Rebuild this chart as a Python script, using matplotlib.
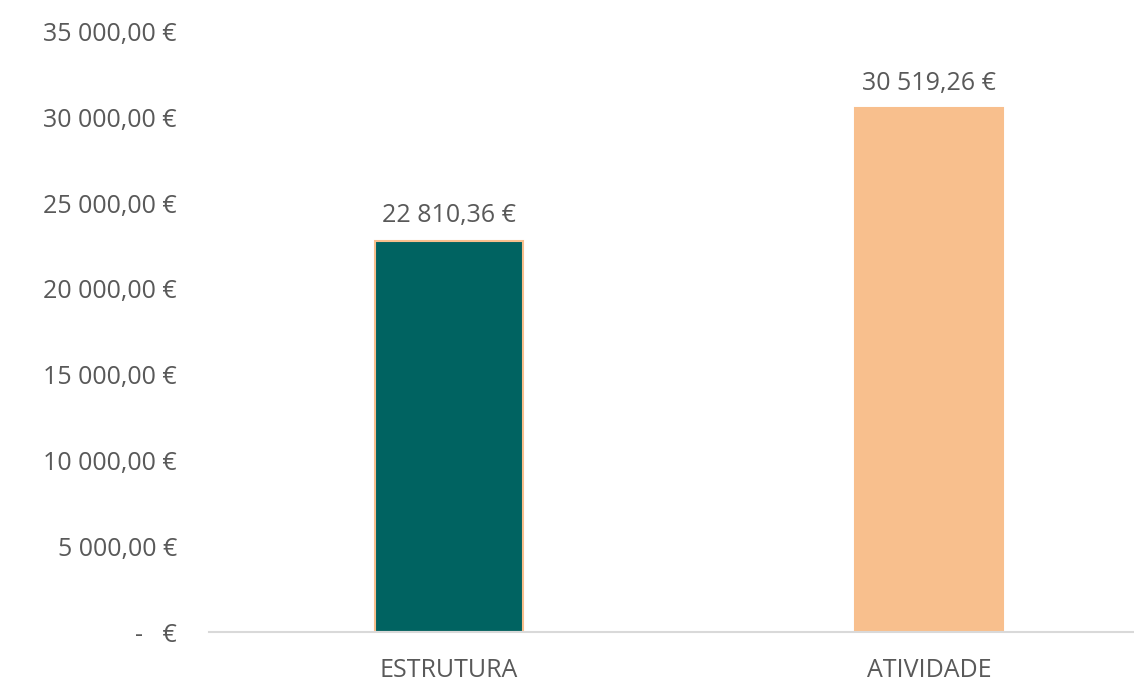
import matplotlib.pyplot as plt
from matplotlib.ticker import FixedLocator, FuncFormatter

categories = ['ESTRUTURA', 'ATIVIDADE']
values = [22810.36, 30519.26]
yticks = [0, 5000, 10000, 15000, 20000, 25000, 30000, 35000]

bar_colors = ['#006361', '#F8BF8D']
edge_color = '#F8BF8D'
text_color = '#595959'

plt.rcParams['font.family'] = ['Open Sans', 'DejaVu Sans']


def euro(v):
    if v == 0:
        return '-   €'
    s = f'{v:,.2f}'
    return s.replace(',', ' ').replace('.', ',') + ' €'


fig = plt.figure(figsize=(11.34, 6.84), dpi=100)
ax = fig.add_axes([0.1843, 0.076, 0.8157, 0.878])

x = list(range(len(categories)))
bars = ax.bar(x, values, width=0.31, color=bar_colors, edgecolor=edge_color,
              linewidth=1.5, zorder=2)

for xi, v in zip(x, values):
    ax.annotate(euro(v), (xi, v), xytext=(0, 9), textcoords='offset points',
                ha='center', va='bottom', fontsize=18, color=text_color)

ax.set_xlim(-0.5, 1.427)
ax.set_ylim(0, 35000)
ax.yaxis.set_major_locator(FixedLocator(yticks))
ax.yaxis.set_major_formatter(FuncFormatter(lambda v, p: euro(v)))
ax.set_xticks(x)
ax.set_xticklabels(categories)

for s in ['top', 'right', 'left']:
    ax.spines[s].set_visible(False)
ax.spines['bottom'].set_color('#D9D9D9')
ax.spines['bottom'].set_linewidth(1.5)
ax.tick_params(axis='both', length=0, colors=text_color, labelsize=18)
ax.tick_params(axis='y', pad=23)
ax.tick_params(axis='x', pad=19)

fig.savefig('out.png', dpi=100)
